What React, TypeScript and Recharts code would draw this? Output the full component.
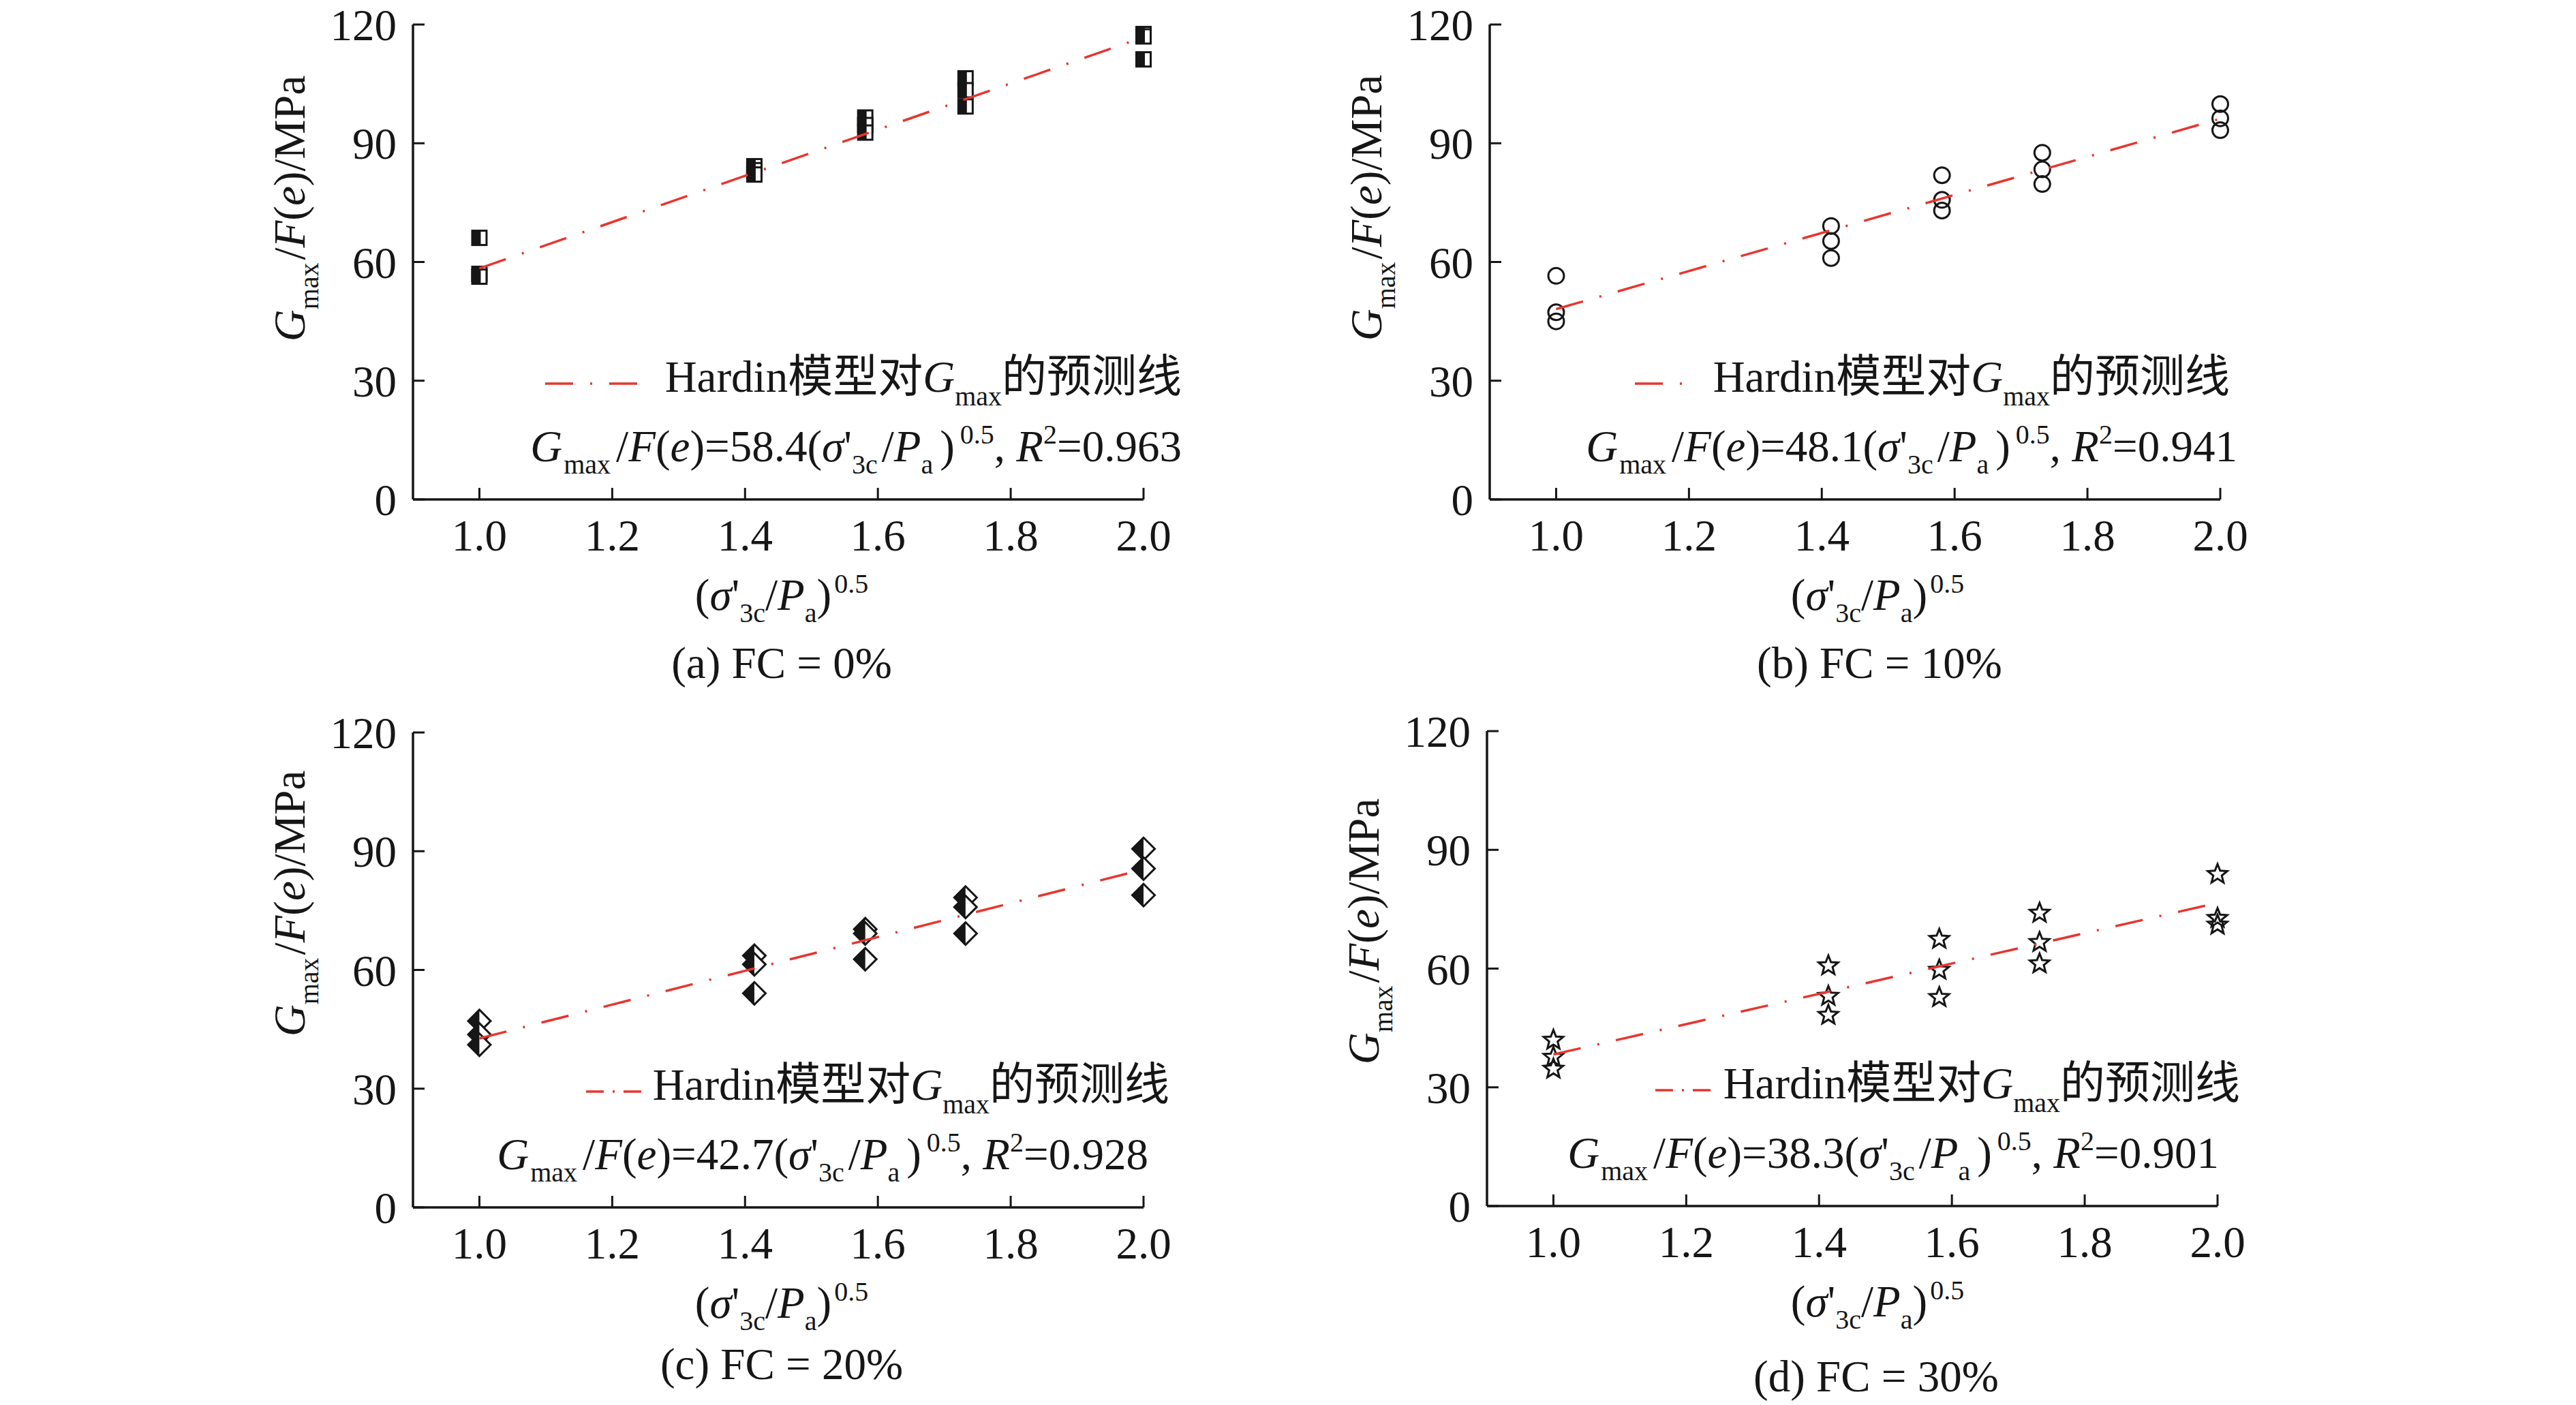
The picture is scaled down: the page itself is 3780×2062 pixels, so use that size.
import React from "react";
import { ScatterChart, Scatter, XAxis, YAxis } from "recharts";

// confining pressure term (σ'3c/Pa)^0.5 of the tests
const X_LEVELS = [1.0, 1.414, 1.581, 1.732, 2.0];
const X_TICKS = [1.0, 1.2, 1.4, 1.6, 1.8, 2.0];
const Y_TICKS = [0, 30, 60, 90, 120];

// Gmax/F(e) in MPa, three specimens per confining pressure
const FC0_VALUES = [[66.1, 57.0, 56.3], [84.2, 83.2, 82.1], [96.5, 94.6, 92.7], [106.4, 103.4, 99.3], [117.6, 117.0, 111.2]];
const FC10_VALUES = [[56.5, 47.3, 45.0], [69.1, 65.3, 61.0], [81.9, 75.7, 73.0], [87.6, 83.4, 79.7], [99.9, 96.3, 93.3]];
const FC20_VALUES = [[47.1, 43.7, 41.1], [63.6, 61.4, 54.1], [70.3, 69.2, 62.7], [78.3, 75.9, 69.2], [90.6, 85.6, 78.9]];
const FC30_VALUES = [[42.1, 37.8, 34.8], [60.9, 53.2, 48.4], [67.6, 59.8, 52.9], [74.2, 66.8, 61.4], [84.0, 72.9, 71.2]];

// Hardin prediction line end points
const FIT_X = [1.0, 2.0];
const FIT_FC0 = [58.4, 116.8];
const FIT_FC10 = [48.1, 96.2];
const FIT_FC20 = [42.7, 85.4];
const FIT_FC30 = [38.3, 76.6];

const COEFS = ["58.4", "48.1", "42.7", "38.3"];
const R2S = ["0.963", "0.941", "0.928", "0.901"];
const CAPTIONS = ["(a) FC = 0%", "(b) FC = 10%", "(c) FC = 20%", "(d) FC = 30%"];

const SERIF = '"Liberation Serif", "Times New Roman", serif';
const CJK = '"Noto Sans CJK SC", sans-serif';
const INK = "#161616";
const RED = "#e8352e";
const FS = 65;
const SUB = 40;

const PLOT_W = 1072;
const PLOT_H = 697;
const AXIS_W = 300;
const TOP_M = 80;

const toPoints = (vals: number[][]) =>
  X_LEVELS.flatMap((x, i) => vals[i].map((y) => ({ x, y })));
const toFit = (ys: number[]) => FIT_X.map((x, i) => ({ x, y: ys[i] }));

const HalfSquare = (p: any) => {
  const { cx, cy } = p;
  return (
    <g>
      <rect x={cx - 12} y={cy - 12} width={24} height={24} fill={INK} />
      <rect x={cx + 2} y={cy - 9} width={7} height={18} fill="#fff" />
    </g>
  );
};

const Circle = (p: any) => (
  <circle cx={p.cx} cy={p.cy} r={11.5} fill="none" stroke={INK} strokeWidth={3} />
);

const HalfDiamond = (p: any) => {
  const { cx, cy } = p;
  const h = 16.5;
  return (
    <g>
      <polygon
        points={`${cx},${cy - h} ${cx + h},${cy} ${cx},${cy + h} ${cx - h},${cy}`}
        fill="#fff"
        stroke={INK}
        strokeWidth={3}
      />
      <polygon points={`${cx},${cy - h} ${cx},${cy + h} ${cx - h},${cy}`} fill={INK} />
    </g>
  );
};

const Star = (p: any) => {
  const { cx, cy } = p;
  const pts: string[] = [];
  for (let k = 0; k < 10; k++) {
    const r = k % 2 === 0 ? 15 : 6.5;
    const a = -Math.PI / 2 + (k * Math.PI) / 5;
    pts.push(`${cx + r * Math.cos(a)},${cy + 1 + r * Math.sin(a)}`);
  }
  return <polygon points={pts.join(" ")} fill="none" stroke={INK} strokeWidth={3} />;
};

const NoDot = () => <g />;

const YTick = (p: any) => {
  const { x, y, payload } = p;
  return (
    <g>
      <line x1={x} x2={x + 17} y1={y} y2={y} stroke={INK} strokeWidth={3} />
      <text x={x - 24} y={y + 23} textAnchor="end" fontFamily={SERIF} fontSize={FS} fill={INK}>
        {payload.value}
      </text>
    </g>
  );
};

const XTick = (p: any) => {
  const { x, y, payload } = p;
  return (
    <g>
      <line x1={x} x2={x} y1={y} y2={y - 17} stroke={INK} strokeWidth={3} />
      <text x={x} y={y + 75} textAnchor="middle" fontFamily={SERIF} fontSize={FS} fill={INK}>
        {Number(payload.value).toFixed(1)}
      </text>
    </g>
  );
};

type Panel = {
  left: number;
  top: number;
  values: number[][];
  fit: number[];
  shape: (p: any) => React.ReactElement;
  legendLine: [number, number];
  legendDash: string;
  legendRight: number;
  eqRight: number;
  yLabelX: number;
  yLabelY: number;
  labelCx: number;
  captionCx: number;
  captionY: number;
};

const PANELS: Panel[] = [
  {
    left: 606, top: 36, values: FC0_VALUES, fit: FIT_FC0, shape: HalfSquare,
    legendLine: [800, 937], legendDash: "41 25 3 25", legendRight: 1734, eqRight: 1734,
    yLabelX: 447, yLabelY: 306, labelCx: 1147, captionCx: 1147, captionY: 995,
  },
  {
    left: 2186, top: 36, values: FC10_VALUES, fit: FIT_FC10, shape: Circle,
    legendLine: [2399, 2469], legendDash: "41 25 3 25", legendRight: 3272, eqRight: 3283,
    yLabelX: 2027, yLabelY: 305, labelCx: 2755, captionCx: 2758, captionY: 995,
  },
  {
    left: 606, top: 1075, values: FC20_VALUES, fit: FIT_FC20, shape: HalfDiamond,
    legendLine: [860, 941], legendDash: "26 13 3 13", legendRight: 1716, eqRight: 1685,
    yLabelX: 447, yLabelY: 1326, labelCx: 1147, captionCx: 1147, captionY: 2024,
  },
  {
    left: 2182, top: 1073, values: FC30_VALUES, fit: FIT_FC30, shape: Star,
    legendLine: [2429, 2511], legendDash: "26 13 3 13", legendRight: 3287, eqRight: 3256,
    yLabelX: 2023, yLabelY: 1367, labelCx: 2755, captionCx: 2753, captionY: 2042,
  },
];

const PanelChart = ({ panel }: { panel: Panel }) => (
  <div style={{ position: "absolute", left: panel.left - AXIS_W, top: panel.top - TOP_M }}>
    <ScatterChart
      width={AXIS_W + PLOT_W + 60}
      height={TOP_M + PLOT_H + 110}
      margin={{ top: TOP_M, right: 60, bottom: 0, left: 0 }}
    >
      <XAxis
        type="number"
        dataKey="x"
        domain={[0.9, 2.0]}
        ticks={X_TICKS}
        height={110}
        tickSize={0}
        tickMargin={0}
        tickLine={false}
        axisLine={{ stroke: INK, strokeWidth: 3.5 }}
        tick={<XTick />}
        interval={0}
      />
      <YAxis
        type="number"
        dataKey="y"
        domain={[0, 120]}
        ticks={Y_TICKS}
        width={AXIS_W}
        tickSize={0}
        tickMargin={0}
        tickLine={false}
        axisLine={{ stroke: INK, strokeWidth: 3.5 }}
        tick={<YTick />}
        interval={0}
      />
      <Scatter data={toPoints(panel.values)} shape={panel.shape} isAnimationActive={false} />
      <Scatter
        data={toFit(panel.fit)}
        shape={NoDot}
        line={{ stroke: RED, strokeWidth: 3.5, strokeDasharray: "41 25 3 25" }}
        isAnimationActive={false}
      />
    </ScatterChart>
  </div>
);

const Annotations = ({ panel, i }: { panel: Panel; i: number }) => {
  const plotBottom = panel.top + PLOT_H;
  const legendBase = panel.top + 539;
  const eqBase = panel.top + 641;
  const xLabelBase = plotBottom + 162;
  return (
    <g fontFamily={SERIF} fill={INK}>
      <line
        x1={panel.legendLine[0]}
        x2={panel.legendLine[1]}
        y1={legendBase - 12}
        y2={legendBase - 12}
        stroke={RED}
        strokeWidth={3.5}
        strokeDasharray={panel.legendDash}
      />
      <text x={panel.legendRight} y={legendBase} textAnchor="end" fontSize={FS}>
        Hardin
        <tspan fontFamily={CJK} fontSize={66}>模型对</tspan>
        <tspan fontStyle="italic">G</tspan>
        <tspan fontSize={SUB} dy={20}>max</tspan>
        <tspan fontFamily={CJK} fontSize={66} dy={-20}>的预测线</tspan>
      </text>
      <text x={panel.eqRight} y={eqBase} textAnchor="end" fontSize={FS}>
        <tspan fontStyle="italic">G</tspan>
        <tspan fontSize={SUB} dy={18} dx={2}>max</tspan>
        <tspan dy={-18} dx={8}>/</tspan>
        <tspan fontStyle="italic">F</tspan>(<tspan fontStyle="italic">e</tspan>)={COEFS[i]}(
        <tspan fontStyle="italic">σ</tspan>'
        <tspan fontSize={SUB} dy={18}>3c</tspan>
        <tspan dy={-18} dx={6}>/</tspan>
        <tspan fontStyle="italic">P</tspan>
        <tspan fontSize={SUB} dy={18}>a</tspan>
        <tspan dy={-18} dx={10}>)</tspan>
        <tspan fontSize={SUB} dy={-26} dx={8}>0.5</tspan>
        <tspan dy={26}>, </tspan>
        <tspan fontStyle="italic">R</tspan>
        <tspan fontSize={SUB} dy={-26}>2</tspan>
        <tspan dy={26}>={R2S[i]}</tspan>
      </text>
      <text x={panel.labelCx} y={xLabelBase} textAnchor="middle" fontSize={FS}>
        (<tspan fontStyle="italic">σ</tspan>'
        <tspan fontSize={SUB} dy={18}>3c</tspan>
        <tspan dy={-18}>/</tspan>
        <tspan fontStyle="italic">P</tspan>
        <tspan fontSize={SUB} dy={18}>a</tspan>
        <tspan dy={-18}>)</tspan>
        <tspan fontSize={SUB} dy={-25} dx={4}>0.5</tspan>
      </text>
      <text x={panel.captionCx} y={panel.captionY} textAnchor="middle" fontSize={FS}>
        {CAPTIONS[i]}
      </text>
      <text
        transform={`translate(${panel.yLabelX},${panel.yLabelY}) rotate(-90)`}
        textAnchor="middle"
        fontSize={FS}
      >
        <tspan fontStyle="italic">G</tspan>
        <tspan fontSize={SUB} dy={20}>max</tspan>
        <tspan dy={-20} dx={4}>/</tspan>
        <tspan fontStyle="italic">F</tspan>(<tspan fontStyle="italic">e</tspan>)/MPa
      </text>
    </g>
  );
};

export default function App() {
  return (
    <div
      style={{
        position: "absolute",
        left: 0,
        top: 0,
        width: 3780,
        height: 2062,
        background: "#fff",
        overflow: "hidden",
      }}
    >
      {PANELS.map((p, i) => (
        <PanelChart key={i} panel={p} />
      ))}
      <svg
        width={3780}
        height={2062}
        style={{ position: "absolute", left: 0, top: 0, pointerEvents: "none" }}
      >
        {PANELS.map((p, i) => (
          <Annotations key={i} panel={p} i={i} />
        ))}
      </svg>
    </div>
  );
}
